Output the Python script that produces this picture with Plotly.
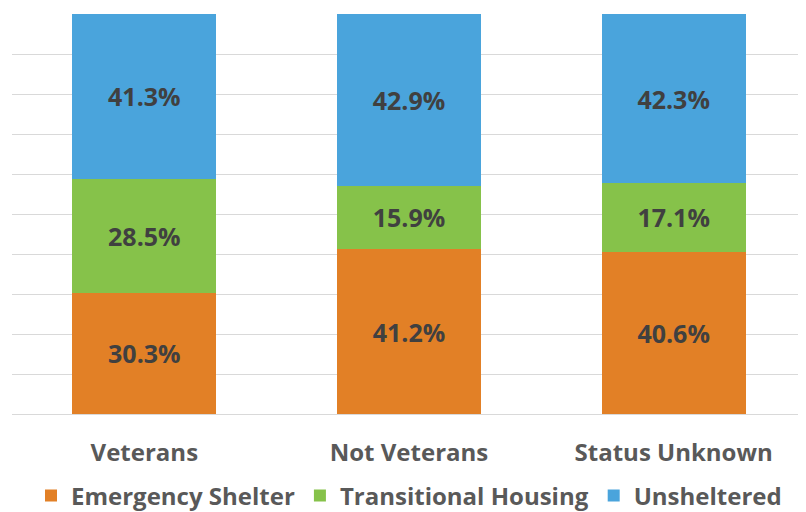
import plotly.graph_objects as go

# Share of people by veteran status and shelter type (%)
categories = ["Veterans", "Not Veterans", "Status Unknown"]
emergency_shelter = [30.3, 41.2, 40.6]
transitional_housing = [28.5, 15.9, 17.1]
unsheltered = [41.3, 42.9, 42.3]

series = [
    ("Emergency Shelter", emergency_shelter, "#E28026"),
    ("Transitional Housing", transitional_housing, "#86C24A"),
    ("Unsheltered", unsheltered, "#4AA4DC"),
]

FONT = "Open Sans"

fig = go.Figure()
for name, values, color in series:
    fig.add_trace(go.Bar(
        x=categories,
        y=values,
        name=name,
        marker=dict(color=color, line=dict(width=0)),
        texttemplate="%{y:.1f}%",
        textposition="inside",
        insidetextanchor="middle",
        textangle=0,
        constraintext="none",
        textfont=dict(family=FONT, size=25, color="#404040", weight="bold"),
        hoverinfo="skip",
    ))

# page body adds an 8px offset, so the figure is sized to fill the rest of the window
fig.update_layout(
    barmode="stack",
    bargap=0.457,
    width=798,
    height=504,
    margin=dict(l=4, r=0, t=6, b=98, autoexpand=False),
    plot_bgcolor="white",
    paper_bgcolor="white",
    showlegend=True,
    legend=dict(
        orientation="h",
        traceorder="normal",
        x=0.5,
        xanchor="center",
        y=-0.205,
        yanchor="middle",
        font=dict(family=FONT, size=24, color="#595959", weight="bold"),
        itemclick=False,
    ),
)

fig.update_xaxes(
    showgrid=False,
    showline=True,
    linecolor="#D9D9D9",
    linewidth=1,
    ticks="",
    ticklabelstandoff=17,
    tickfont=dict(family=FONT, size=24, color="#595959", weight="bold"),
)
fig.update_yaxes(
    range=[0, 100],
    dtick=10,
    showgrid=True,
    gridcolor="#D9D9D9",
    gridwidth=1,
    showticklabels=False,
    zeroline=False,
)

fig.write_html("out.html")
